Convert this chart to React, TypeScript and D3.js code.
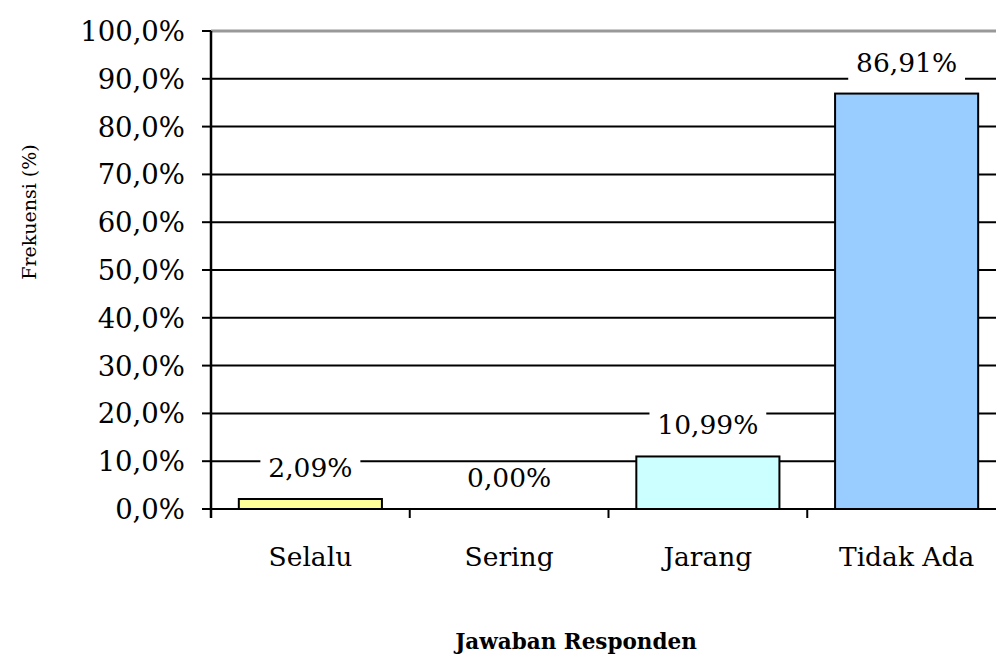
import React from "react";
import * as d3 from "d3";

const categories = ["Selalu", "Sering", "Jarang", "Tidak Ada"];
const values = [2.09, 0.0, 10.99, 86.91];
const colors = ["#FFFF99", "#CCFFFF", "#CCFFFF", "#99CCFF"];
const yTicks = [0, 10, 20, 30, 40, 50, 60, 70, 80, 90, 100];

const W = 996, H = 655;
const left = 211, right = 1006, top = 31, bottom = 509;
const FONT = "'DejaVu Serif', serif";

export default function App() {
  const x = d3.scaleBand<string>().domain(categories).range([left, right]).paddingInner(0.28).paddingOuter(0.14);
  const xb = d3.scaleBand<string>().domain(categories).range([left, right]);
  const y = d3.scaleLinear().domain([0, 100]).range([bottom, top]);
  const fmtTick = (v: number) => v.toFixed(1).replace(".", ",") + "%";
  const fmtLab = (v: number) => v.toFixed(2).replace(".", ",") + "%";
  const fs = 26.5;
  return (
    <svg width={W} height={H} style={{ position: "absolute", left: 0, top: 0, background: "#fff" }}>
      <rect width={W} height={H} fill="#fff" />
      {yTicks.map((t) => (
        <g key={t}>
          {t > 0 && (
            <line x1={left} x2={right} y1={y(t)} y2={y(t)} stroke={t === 100 ? "#999" : "#000"} strokeWidth={t === 100 ? 3 : 2} />
          )}
          <line x1={left - 9} x2={left} y1={y(t)} y2={y(t)} stroke="#000" strokeWidth={2} />
          <text x={left - 26} y={y(t)} dy="0.36em" textAnchor="end" fontFamily={FONT} fontSize={27.5} fill="#000">
            {fmtTick(t)}
          </text>
        </g>
      ))}
      {categories.map((c, i) => {
        const v = values[i];
        const bx = x(c)!;
        const bw = x.bandwidth();
        const by = y(v);
        const cx = bx + bw / 2;
        const label = fmtLab(v);
        const tw = label.length * 16.8;
        return (
          <g key={c}>
            {v > 0 && (
              <rect x={bx} y={by} width={bw} height={bottom - by} fill={colors[i]} stroke="#000" strokeWidth={2} />
            )}
            <rect x={cx - tw / 2 - 8} y={by - 46} width={tw + 16} height={34} fill="#fff" />
            <text x={cx} y={by - 22} textAnchor="middle" fontFamily={FONT} fontSize={fs} fill="#000">
              {label}
            </text>
            <text x={xb(c)! + xb.bandwidth() / 2} y={566} textAnchor="middle" fontFamily={FONT} fontSize={fs} fill="#000">
              {c}
            </text>
          </g>
        );
      })}
      <line x1={left} x2={right} y1={bottom} y2={bottom} stroke="#000" strokeWidth={2} />
      <line x1={left} x2={left} y1={top} y2={bottom + 9} stroke="#000" strokeWidth={2.5} />
      {categories.map((c) => (
        <line key={c} x1={xb(c)! + xb.bandwidth()} x2={xb(c)! + xb.bandwidth()} y1={bottom} y2={bottom + 9} stroke="#000" strokeWidth={2} />
      ))}
      <text x={576} y={649} textAnchor="middle" fontFamily={FONT} fontSize={21.5} fontWeight="bold" fill="#000">
        Jawaban Responden
      </text>
      <text transform={`translate(36,212) rotate(-90)`} textAnchor="middle" fontFamily={FONT} fontSize={19} fill="#000">
        Frekuensi (%)
      </text>
    </svg>
  );
}
